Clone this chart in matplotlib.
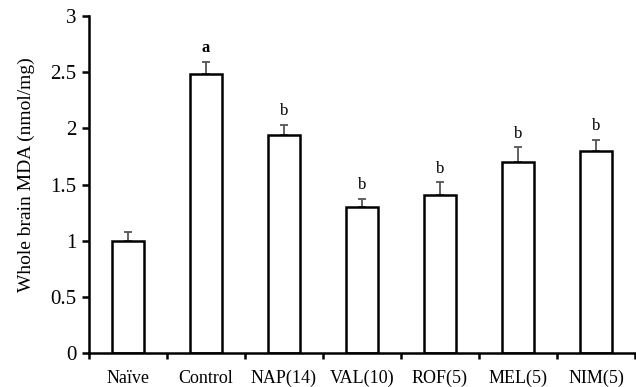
import matplotlib
matplotlib.use("Agg")
import numpy as np
import matplotlib.pyplot as plt

groups = ['Naïve', 'Control', 'NAP(14)', 'VAL(10)', 'ROF(5)', 'MEL(5)', 'NIM(5)']
mda = [1.00, 2.48, 1.94, 1.30, 1.41, 1.70, 1.80]
sem = [0.08, 0.11, 0.09, 0.07, 0.11, 0.13, 0.10]
marks = ['', 'a', 'b', 'b', 'b', 'b', 'b']

plt.rcParams['font.family'] = ['Liberation Serif', 'DejaVu Serif']

fig = plt.figure(figsize=(6.36, 3.87), dpi=100)
ax = fig.add_axes([89 / 636, 1 - 353 / 387, 546 / 636, 337 / 387])

x = np.arange(len(groups))
ax.bar(x, mda, width=0.41, color='white', edgecolor='black', linewidth=1.8, zorder=2)
ax.errorbar(x, mda, yerr=[np.zeros(len(sem)), sem], fmt='none', ecolor='#555555',
            elinewidth=1.3, capsize=3, capthick=1.3, zorder=1)

for xi, m, s, lab in zip(x, mda, sem, marks):
    if lab:
        ax.text(xi, m + s + 0.05, lab, ha='center', va='bottom', fontsize=12,
                fontweight='bold' if lab == 'a' else 'normal')

ax.set_xlim(-0.5, len(groups) - 0.5)
ax.set_ylim(0, 3)
ax.set_yticks(np.arange(0, 3.01, 0.5))
ax.set_yticklabels(['0', '0.5', '1', '1.5', '2', '2.5', '3'], fontsize=15)
ax.set_xticks(x)
ax.set_xticklabels(groups, fontsize=13)
ax.tick_params(axis='x', length=0, pad=12)
ax.set_xticks(np.arange(-0.5, len(groups) - 0.4, 1), minor=True)
ax.tick_params(axis='x', which='minor', length=4, width=1.8, direction='out')
ax.tick_params(axis='y', length=5, width=1.8, direction='out', pad=4)
ax.set_ylabel('Whole brain MDA (nmol/mg)', fontsize=14)
ax.yaxis.set_label_coords(-54 / 546, 0.53)

for side in ('top', 'right'):
    ax.spines[side].set_visible(False)
for side in ('left', 'bottom'):
    ax.spines[side].set_linewidth(1.8)

fig.savefig('out.png', dpi=100)
